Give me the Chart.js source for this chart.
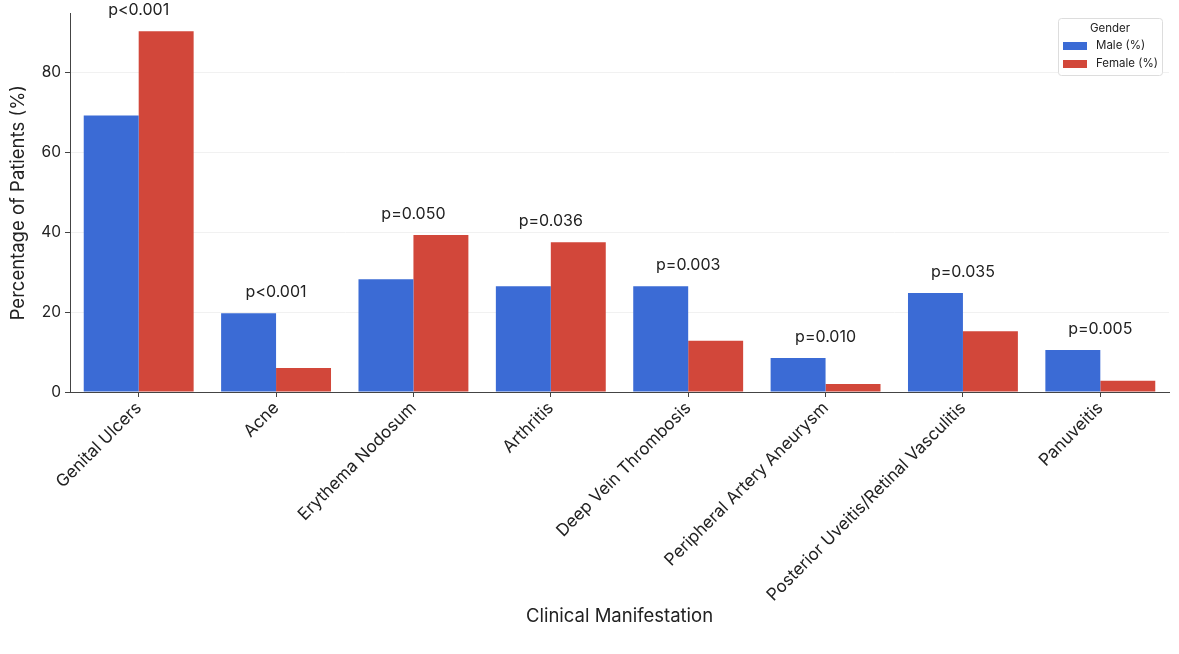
<!DOCTYPE html>
<html>
<head>
<meta charset="utf-8">
<script src="https://cdn.jsdelivr.net/npm/chart.js@4.4.1/dist/chart.umd.min.js"></script>
<style>
  html, body { margin: 0; padding: 0; background: #fff; }
  #wrap { width: 1179px; height: 654px; }
</style>
</head>
<body>
<div id="wrap"><canvas id="chart" width="1179" height="654"></canvas></div>
<script>
const categories = ['Genital Ulcers', 'Acne', 'Erythema Nodosum', 'Arthritis', 'Deep Vein Thrombosis',
  'Peripheral Artery Aneurysm', 'Posterior Uveitis/Retinal Vasculitis', 'Panuveitis'];
const maleValues = [69.2, 19.7, 28.2, 26.5, 26.5, 8.5, 24.8, 10.5];
const femaleValues = [90.3, 6.0, 39.3, 37.5, 12.8, 2.0, 15.2, 2.8];
const pValues = ['p<0.001', 'p<0.001', 'p=0.050', 'p=0.036', 'p=0.003', 'p=0.010', 'p=0.035', 'p=0.005'];
const yTicks = [0, 20, 40, 60, 80];

const FONT = 'Inter, "Noto Sans", sans-serif';

// p-value text above each group
const pLabels = {
  id: 'pLabels',
  afterDatasetsDraw(chart) {
    const ctx = chart.ctx;
    const x = chart.scales.x, y = chart.scales.y;
    ctx.save();
    ctx.font = '16px ' + FONT;
    ctx.fillStyle = '#222';
    ctx.textAlign = 'center';
    ctx.textBaseline = 'middle';
    categories.forEach((c, i) => {
      const top = Math.max(maleValues[i], femaleValues[i]);
      ctx.fillText(pValues[i], x.getPixelForValue(i), y.getPixelForValue(top) - 21);
    });
    ctx.restore();
  }
};

// legend box in the top right corner of the plot
const boxLegend = {
  id: 'boxLegend',
  afterDraw(chart) {
    const ctx = chart.ctx;
    const area = chart.chartArea;
    const w = 104, h = 57;
    const bx = area.right - w - 7, by = 18;
    ctx.save();
    ctx.fillStyle = 'rgba(255,255,255,0.9)';
    ctx.strokeStyle = '#dddddd';
    ctx.lineWidth = 1;
    ctx.beginPath();
    ctx.roundRect(bx + 0.5, by + 0.5, w, h, 3);
    ctx.fill();
    ctx.stroke();
    ctx.fillStyle = '#222';
    ctx.font = '11.5px ' + FONT;
    ctx.textBaseline = 'middle';
    ctx.textAlign = 'center';
    ctx.fillText('Gender', bx + w / 2, by + 11);
    ctx.textAlign = 'left';
    chart.data.datasets.forEach((ds, i) => {
      const ry = by + 28 + i * 18;
      ctx.fillStyle = ds.backgroundColor;
      ctx.fillRect(bx + 5, ry - 4, 24, 8);
      ctx.fillStyle = '#222';
      ctx.fillText(ds.label, bx + 38, ry);
    });
    ctx.restore();
  }
};

new Chart(document.getElementById('chart'), {
  type: 'bar',
  data: {
    labels: categories,
    datasets: [
      { label: 'Male (%)', data: maleValues, backgroundColor: '#3b6bd5', borderWidth: 0 },
      { label: 'Female (%)', data: femaleValues, backgroundColor: '#d2473a', borderWidth: 0 }
    ]
  },
  options: {
    responsive: false,
    animation: false,
    layout: { padding: { top: 13, right: 10, left: 0, bottom: 0 } },
    datasets: { bar: { categoryPercentage: 0.8, barPercentage: 1.0 } },
    plugins: {
      legend: { display: false },
      tooltip: { enabled: false }
    },
    scales: {
      x: {
        afterFit(s) { s.height = 262; },
        grid: { offset: false, drawOnChartArea: false, tickLength: 5, tickColor: '#444' },
        border: { color: '#444', width: 1 },
        ticks: {
          color: '#222',
          font: { family: FONT, size: 17 },
          minRotation: 45, maxRotation: 45,
          padding: 1
        },
        title: {
          display: true,
          text: 'Clinical Manifestation',
          color: '#222',
          font: { family: FONT, size: 18.5 },
          padding: { bottom: 26 }
        }
      },
      y: {
        min: 0,
        max: 94.8,
        afterFit(s) { s.width = 70; },
        afterBuildTicks(s) { s.ticks = yTicks.map(v => ({ value: v })); },
        grid: { color: '#f1f1f1', tickLength: 5, tickColor: '#444' },
        border: { color: '#444', width: 1 },
        ticks: {
          color: '#222',
          font: { family: FONT, size: 15.5 },
          padding: 4
        },
        title: {
          display: true,
          text: 'Percentage of Patients (%)',
          color: '#222',
          font: { family: FONT, size: 18.5 },
          padding: { top: 7 }
        }
      }
    }
  },
  plugins: [pLabels, boxLegend]
});
</script>
</body>
</html>
